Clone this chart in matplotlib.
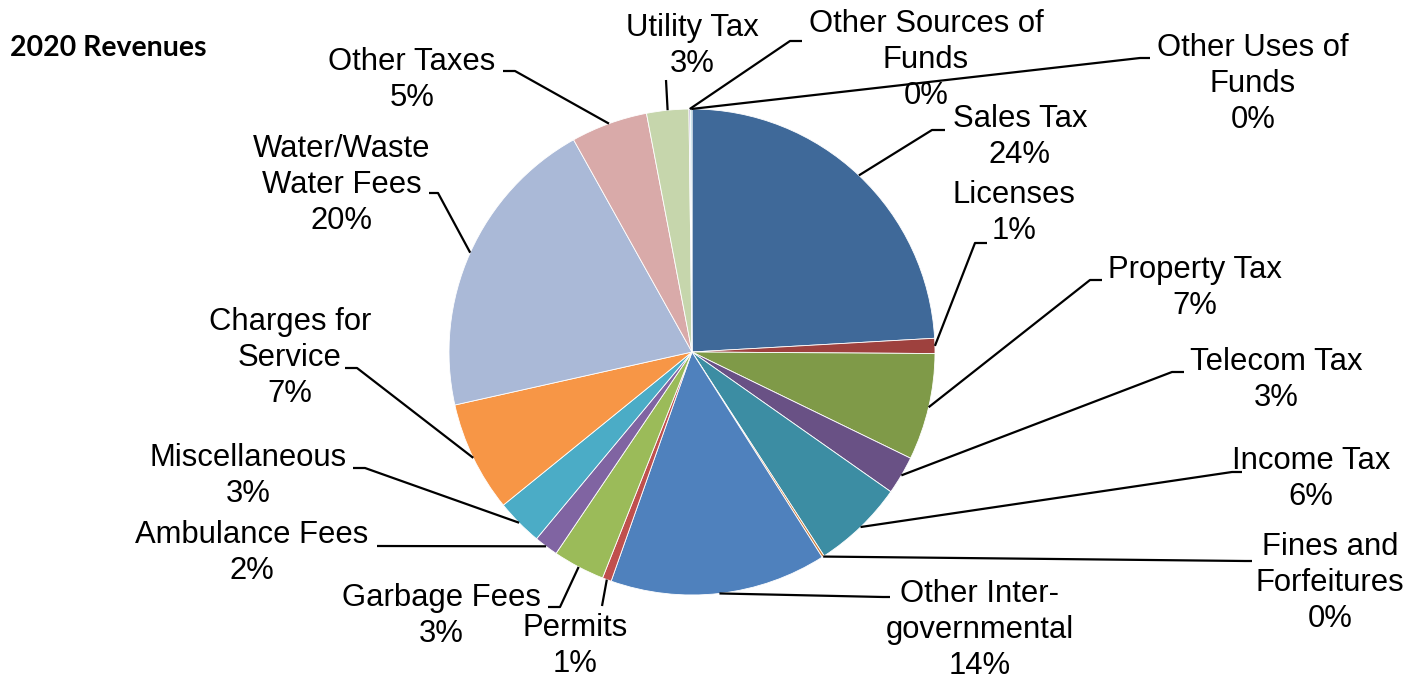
import matplotlib.pyplot as plt
import numpy as np

plt.rcParams['font.family'] = ['Liberation Sans', 'DejaVu Sans']

W, H = 1425, 680

# revenue sources, clockwise from 12 o'clock (share of total, %)
categories = ['Sales Tax', 'Licenses', 'Property Tax', 'Telecom Tax', 'Income Tax',
              'Fines and\nForfeitures', 'Other Inter-\ngovernmental', 'Permits',
              'Garbage Fees', 'Ambulance Fees', 'Miscellaneous', 'Charges for\nService',
              'Water/Waste\nWater Fees', 'Other Taxes', 'Utility Tax',
              'Other Sources of\nFunds', 'Other Uses of\nFunds']
shares = [24.1, 1.0, 7.1, 2.55, 6.1,
          0.15, 14.4, 0.6,
          3.45, 1.6, 3.1, 7.35,
          20.4, 5.1, 2.8,
          0.1, 0.1]
colors = ['#3f6999', '#9e413e', '#7f9a48', '#695185', '#3c8da3',
          '#cc7b38', '#4f81bd', '#c0504d', '#9bbb59', '#8064a2',
          '#4bacc6', '#f79646', '#aab9d7', '#d9aaa9', '#c6d6ac',
          '#b9acd0', '#a5d2df']

# label centres and leader line bends, in pixels from the top left corner
text_xy = [(1020, 137), (1014, 213), (1195, 288), (1276, 380), (1311, 479),
           (1330, 583), (980, 630), (575, 646), (441, 616), (252, 553),
           (248, 476), (290, 358), (342, 185), (412, 80), (692, 46),
           (926, 60), (1253, 84)]
leaders = [[(932, 130), (945, 130)], [(975, 243), (987, 243)],
           [(1090, 280), (1102, 280)], [(1172, 372), (1184, 372)],
           [(1232, 472), (1242, 472)], [(1245, 561), (1252, 561)],
           [(883, 597), (890, 597)], [(602, 606)],
           [(560, 607), (548, 607)], [(377, 546)],
           [(365, 468), (353, 468)], [(357, 368), (345, 368)],
           [(438, 193), (429, 193)], [(515, 71), (503, 71)],
           [(666, 80)], [(790, 41), (802, 41)], [(1140, 58), (1150, 58)]]

cx, cy, r = 692, H - 352, 243


def flip(p):
    return p[0], H - p[1]


fig = plt.figure(figsize=(W / 100, H / 100), dpi=100)
ax = fig.add_axes([0, 0, 1, 1])

wedges, _ = ax.pie(shares, colors=colors, startangle=90, counterclock=False,
                   center=(cx, cy), radius=r, frame=True,
                   wedgeprops=dict(edgecolor='white', linewidth=0.6))

total = sum(shares)
for w, name, v, txy, pts in zip(wedges, categories, shares, text_xy, leaders):
    mid = np.deg2rad((w.theta1 + w.theta2) / 2)
    start = (cx + r * np.cos(mid), cy + r * np.sin(mid))
    line = [start] + [flip(p) for p in pts]
    xs, ys = zip(*line)
    ax.plot(xs, ys, color='black', lw=1.6, solid_capstyle='butt', zorder=3)
    pct = int(v / total * 100 + 0.5)
    tx, ty = flip(txy)
    ax.text(tx, ty, f'{name}\n{pct}%', ha='center', va='center',
            multialignment='center', fontsize=22.3, linespacing=1.24, zorder=4)

ax.text(10, H - 48, '2020 Revenues', ha='left', va='center', fontsize=20.5,
        fontweight='bold', family=['Lato', 'DejaVu Sans'])

ax.set_xlim(0, W)
ax.set_ylim(0, H)
ax.axis('off')

fig.savefig('out.png', dpi=100, facecolor='white')
